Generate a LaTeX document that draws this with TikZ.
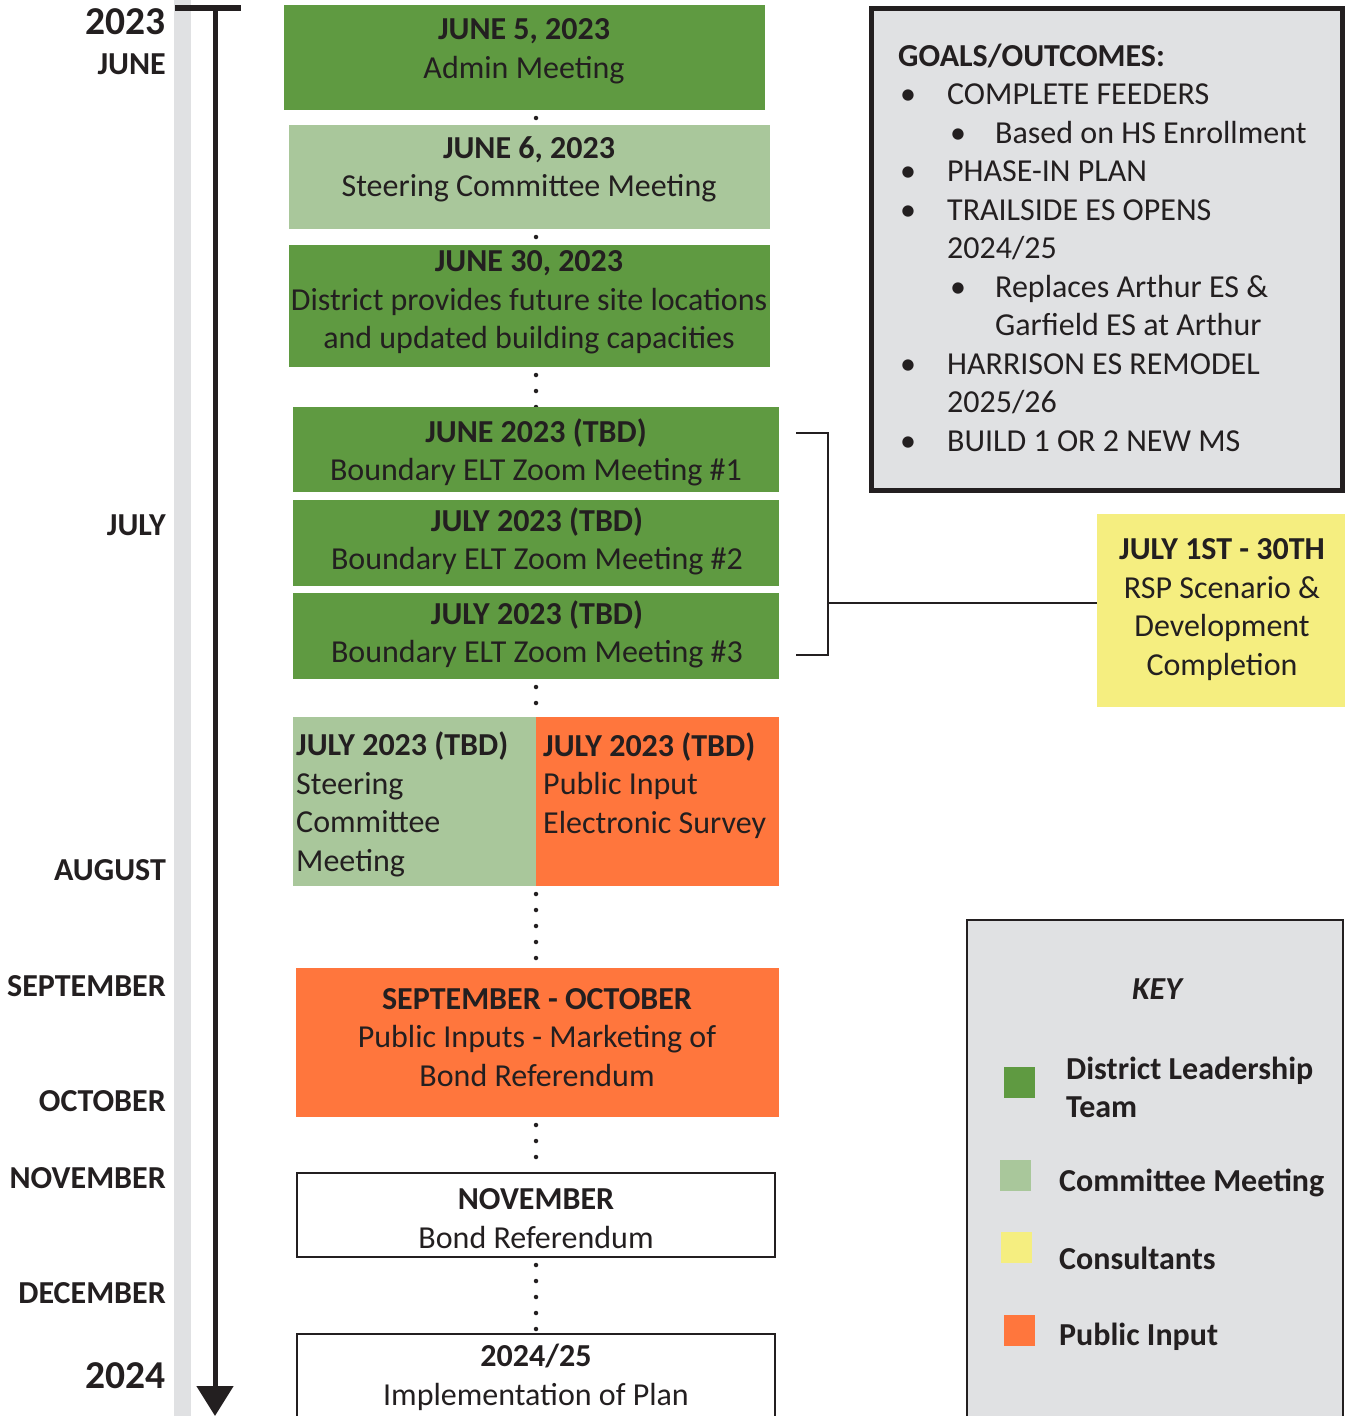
\documentclass[tikz,border=0pt]{standalone}
\usepackage{fontspec}
\setmainfont{Carlito}
\usetikzlibrary{arrows.meta,backgrounds}
\definecolor{dkgreen}{HTML}{5F9A41}
\definecolor{ltgreen}{HTML}{A9C79B}
\definecolor{orng}{HTML}{FF763D}
\definecolor{yel}{HTML}{F5EE80}
\definecolor{gry}{HTML}{E0E1E3}
\definecolor{ink}{HTML}{231F20}
\begin{document}
\begin{tikzpicture}[x=1pt,y=-1pt,
  box/.style={rectangle, inner sep=0pt, outer sep=0pt, anchor=north west, draw=none},
  wbox/.style={rectangle, inner sep=0pt, outer sep=0pt, anchor=north west, draw=ink, line width=2.5pt, fill=white},
  txt/.style={inner sep=0pt, align=center, text=ink, yshift=-1.5pt, font=\fontsize{32}{38.5}\selectfont},
  lbl/.style={inner sep=0pt, anchor=east, text=ink, yshift=-1pt, font=\fontsize{32}{36}\selectfont\bfseries},
  yr/.style={inner sep=0pt, anchor=east, text=ink, font=\fontsize{39.5}{44}\selectfont\bfseries},
  keytxt/.style={inner sep=0pt, align=left, anchor=west, text=ink, yshift=-1.5pt, font=\fontsize{32}{38}\selectfont\bfseries},
  keysq/.style={rectangle, inner sep=0pt, outer sep=0pt, minimum width=31pt, minimum height=31pt, anchor=north west},
  dotline/.style={draw=ink, line width=4.5pt, line cap=round, dash pattern=on 0pt off 16pt, dash phase=8pt},
  conn/.style={draw=ink, line width=2.5pt}
]
\useasboundingbox (0,0) rectangle (1345,1416);

% timeline
\fill[gry] (174,0) rectangle (191,1416);
\coordinate (ttop) at (215,8);
\coordinate (tbot) at (215,1416);
\coordinate (tl) at (175,8);
\coordinate (tr) at (241,8);
\draw[line width=6pt, ink] (tl) -- (tr);
\draw[line width=5pt, ink, -{Triangle[width=36pt,length=30pt]}] (ttop) -- (tbot);

% month labels
\node[yr] (y2023) at (166,22) {2023};
\node[lbl] (mjun) at (166,63) {JUNE};
\node[lbl] (mjul) at (166,524) {JULY};
\node[lbl] (maug) at (166,869) {AUGUST};
\node[lbl] (msep) at (166,985) {SEPTEMBER};
\node[lbl] (moct) at (166,1100) {OCTOBER};
\node[lbl] (mnov) at (166,1177) {NOVEMBER};
\node[lbl] (mdec) at (166,1292) {DECEMBER};
\node[yr] (y2024) at (166,1376) {2024};

% boxes
\node[box, fill=dkgreen, minimum width=481pt, minimum height=105pt] (b1) at (284,5) {};
\node[box, fill=ltgreen, minimum width=481pt, minimum height=104pt] (b2) at (289,125) {};
\node[box, fill=dkgreen, minimum width=481pt, minimum height=122pt] (b3) at (289,245) {};
\node[box, fill=dkgreen, minimum width=486pt, minimum height=85pt] (b4) at (293,407) {};
\node[box, fill=dkgreen, minimum width=486pt, minimum height=86pt] (b5) at (293,500) {};
\node[box, fill=dkgreen, minimum width=486pt, minimum height=86pt] (b6) at (293,593) {};
\node[box, fill=ltgreen, minimum width=243pt, minimum height=169pt] (b7a) at (293,717) {};
\node[box, fill=orng, minimum width=243pt, minimum height=169pt] (b7b) at (536,717) {};
\node[box, fill=orng, minimum width=483pt, minimum height=149pt] (b8) at (296,968) {};
\node[wbox, minimum width=478pt, minimum height=84pt] (b9) at (297,1173) {};
\node[wbox, minimum width=478pt, minimum height=100pt] (b10) at (297,1334) {};

% dotted connectors (behind)
\begin{scope}[on background layer]
\draw[dotline] (b1.south -| b4.north) -- (b2.north -| b4.north);
\draw[dotline] (b2.south -| b4.north) -- (b3.north -| b4.north);
\draw[dotline] (b3.south -| b4.north) -- (b4.north);
\draw[dotline] (b4.south) -- (b5.north);
\draw[dotline] (b5.south) -- (b6.north);
\draw[dotline] (b6.south) -- (b7a.north east);
\draw[dotline] (b7a.south east) -- (b8.north -| b4.north);
\draw[dotline] (b8.south -| b4.north) -- (b9.north -| b4.north);
\draw[dotline] (b9.south -| b4.north) -- (b10.north -| b4.north);
\end{scope}

% box texts
\node[txt] (t1) at (524,50) {\textbf{JUNE 5, 2023}\\Admin Meeting};
\node[txt] (t2) at (529,168) {\textbf{JUNE 6, 2023}\\Steering Committee Meeting};
\node[txt] (t3) at (529,301) {\textbf{JUNE 30, 2023}\\District provides future site locations\\and updated building capacities};
\node[txt] (t4) at (536,451) {\textbf{JUNE 2023 (TBD)}\\Boundary ELT Zoom Meeting \#1};
\node[txt] (t5) at (537,540) {\textbf{JULY 2023 (TBD)}\\Boundary ELT Zoom Meeting \#2};
\node[txt] (t6) at (537,633) {\textbf{JULY 2023 (TBD)}\\Boundary ELT Zoom Meeting \#3};
\node[txt, align=left, anchor=west] (t7a) at (296,803) {\textbf{JULY 2023 (TBD)}\\Steering\\Committee\\Meeting};
\node[txt, align=left, anchor=west] (t7b) at (543,784) {\textbf{JULY 2023 (TBD)}\\Public Input\\Electronic Survey};
\node[txt] (t8) at (537,1036) {\textbf{SEPTEMBER - OCTOBER}\\Public Inputs - Marketing of\\Bond Referendum};
\node[txt] (t9) at (536,1217) {\textbf{NOVEMBER}\\Bond Referendum};
\node[txt] (t10) at (536,1376) {\textbf{2024/25}\\Implementation of Plan};

% yellow consultants box + bracket
\node[box, fill=yel, minimum width=248pt, minimum height=193pt] (yb) at (1097,514) {};
\node[txt] (yt) at (1222,608) {\textbf{JULY 1ST - 30TH}\\RSP Scenario \&\\Development\\Completion};
\coordinate (brt) at (796,433);
\coordinate (brtr) at (828,433);
\coordinate (brbr) at (828,655);
\coordinate (brb) at (796,655);
\coordinate (brm) at (828,603);
\draw[conn] (brt) -- (brtr) -- (brbr) -- (brb);
\draw[conn] (brm) -- (brm -| yb.west);

% goals box
\node[box, fill=gry, draw=ink, line width=5pt, minimum width=471pt, minimum height=482pt] (goals) at (871.5,8.5) {};
\node[txt, align=left, anchor=west] (gt) at (898,246) {\textbf{GOALS/OUTCOMES:}\\
\makebox[49pt][l]{\hspace*{2pt}•}COMPLETE FEEDERS\\
\hspace*{49pt}\makebox[48pt][l]{\hspace*{3pt}•}Based on HS Enrollment\\
\makebox[49pt][l]{\hspace*{2pt}•}PHASE-IN PLAN\\
\makebox[49pt][l]{\hspace*{2pt}•}TRAILSIDE ES OPENS\\
\hspace*{49pt}2024/25\\
\hspace*{49pt}\makebox[48pt][l]{\hspace*{3pt}•}Replaces Arthur ES \&\\
\hspace*{97pt}Garfield ES at Arthur\\
\makebox[49pt][l]{\hspace*{2pt}•}HARRISON ES REMODEL\\
\hspace*{49pt}2025/26\\
\makebox[49pt][l]{\hspace*{2pt}•}BUILD 1 OR 2 NEW MS};

% key box
\node[box, fill=gry, draw=ink, line width=2.5pt, minimum width=376pt, minimum height=520pt] (key) at (967,920) {};
\node[txt, font=\fontsize{32}{36}\selectfont\bfseries\itshape] (keyt) at (1157,988) {KEY};
\node[keysq, fill=dkgreen] (k1) at (1004,1067) {};
\node[keytxt] (k1t) at (1066,1086) {District Leadership\\Team};
\node[keysq, fill=ltgreen] (k2) at (1000,1160) {};
\node[keytxt] (k2t) at (1059,1181) {Committee Meeting};
\node[keysq, fill=yel] (k3) at (1001,1232) {};
\node[keytxt] (k3t) at (1059,1257) {Consultants};
\node[keysq, fill=orng] (k4) at (1004,1315) {};
\node[keytxt] (k4t) at (1059,1335) {Public Input};
\end{tikzpicture}
\end{document}
